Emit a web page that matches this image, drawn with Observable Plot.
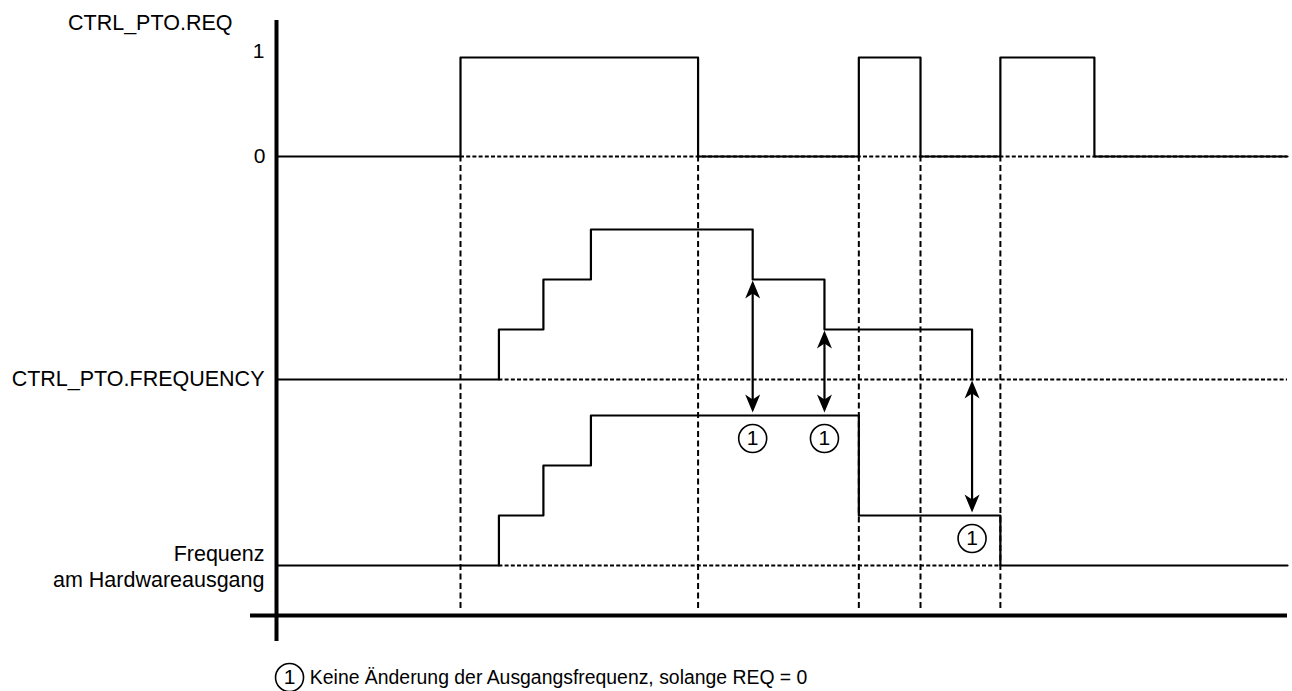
<!DOCTYPE html>
<html><head><meta charset="utf-8">
<script src="https://cdn.jsdelivr.net/npm/d3@7"></script>
<script src="https://cdn.jsdelivr.net/npm/@observablehq/plot@0.6"></script>
<style>body{margin:0;background:#fff}</style>
</head><body><div id="chart"></div>
<script>
// ---- Data (time in arbitrary units 0..100, signal levels) ----
const reqTimes   = [0, 18.2, 41.7, 57.6, 63.7, 71.6, 80.9, 100];
const reqLevels  = [0, 1, 0, 1, 0, 1, 0, 0];
const freqTimes  = [0, 22.0, 26.4, 31.1, 47.1, 54.2, 68.8];
const freqLevels = [0, 1, 2, 3, 2, 1, 0];
const outTimes   = [0, 22.0, 26.4, 31.1, 57.6, 71.6, 100];
const outLevels  = [0, 1, 2, 3, 1, 0, 0];
const edgeTimes  = [18.2, 41.7, 57.6, 63.7, 71.6];
const noteTimes      = [47.1, 54.2, 68.8];
const noteFreqLevels = [2, 1, 0];
const noteOutLevels  = [3, 3, 1];
const reqTickLabels  = ["0", "1"];
const laneLabels = ["CTRL_PTO.REQ", "CTRL_PTO.FREQUENCY", "Frequenz\nam Hardwareausgang"];
const noteMarker = "1";
const footnote = "Keine Änderung der Ausgangsfrequenz, solange REQ = 0";

// ---- Layout constants (vertical lanes in y units) ----
const REQ_BASE = 9.18, REQ_STEP = 1.98;
const FREQ_BASE = 4.72, OUT_BASE = 1.0, STEP = 1.0;
const reqY  = v => REQ_BASE + v * REQ_STEP;
const freqY = v => FREQ_BASE + v * STEP;
const outY  = v => OUT_BASE + v * STEP;

const reqData  = reqTimes.map((t, i) => ({t, y: reqY(reqLevels[i])}));
const freqData = freqTimes.map((t, i) => ({t, y: freqY(freqLevels[i])}));
const outData  = outTimes.map((t, i) => ({t, y: outY(outLevels[i])}));
const notes = noteTimes.map((t, i) => ({t, y1: freqY(noteFreqLevels[i]), y2: outY(noteOutLevels[i])}));

const tEnd = 100;
const baselines = [
  {y: REQ_BASE, x1: reqTimes[1], x2: tEnd},
  {y: FREQ_BASE, x1: freqTimes[1], x2: tEnd},
  {y: OUT_BASE, x1: outTimes[1], x2: outTimes[5]}
];

const headUp = {draw(c) { c.moveTo(0, 0); c.lineTo(7.5, 18); c.lineTo(0, 13); c.lineTo(-7.5, 18); c.closePath(); }};
const headDown = {draw(c) { c.moveTo(0, 0); c.lineTo(7.5, -18); c.lineTo(0, -13); c.lineTo(-7.5, -18); c.closePath(); }};

const font = "'Liberation Sans', Arial, sans-serif";

const chart = Plot.plot({
  width: 1292, height: 691,
  marginLeft: 276, marginRight: 5, marginTop: 0, marginBottom: 0,
  x: {domain: [0, tEnd], axis: null},
  y: {domain: [-1.52, 12.3], axis: null},
  style: {fontFamily: font, background: "white", color: "black"},
  marks: [
    // dashed reference baselines
    Plot.ruleY(baselines, {y: "y", x1: "x1", x2: "x2", stroke: "black", strokeWidth: 2, strokeDasharray: "4,2.2"}),
    // dashed vertical edge markers
    Plot.ruleX(edgeTimes, {x: d => d, y1: 0.14, y2: REQ_BASE, stroke: "black", strokeWidth: 2, strokeDasharray: "6,3.5"}),
    // signals
    Plot.line(reqData,  {x: "t", y: "y", curve: "step-after", stroke: "black", strokeWidth: 2.2}),
    Plot.line(freqData, {x: "t", y: "y", curve: "step-after", stroke: "black", strokeWidth: 2.2}),
    Plot.line(outData,  {x: "t", y: "y", curve: "step-after", stroke: "black", strokeWidth: 2.2}),
    // axes
    Plot.ruleX([0], {y1: -0.52, y2: 11.9, stroke: "black", strokeWidth: 4}),
    Plot.ruleY([0], {x1: -2.57, x2: tEnd, stroke: "black", strokeWidth: 4}),
    // arrows
    Plot.ruleX(notes, {x: "t", y1: "y1", y2: "y2", stroke: "black", strokeWidth: 2.2, insetTop: 8, insetBottom: 10}),
    Plot.dot(notes, {x: "t", y: "y1", symbol: headUp, fill: "black", stroke: "none", dy: 1}),
    Plot.dot(notes, {x: "t", y: "y2", symbol: headDown, fill: "black", stroke: "none", dy: -3}),
    // circled markers
    Plot.dot(notes, {x: "t", y: "y2", r: 14, dy: 23, fill: "white", stroke: "black", strokeWidth: 1.6}),
    Plot.text(notes, {x: "t", y: "y2", text: () => noteMarker, dy: 23, fontSize: 21, lineAnchor: "middle"}),
    // tick labels of REQ
    Plot.text([reqTickLabels[0]], {x: 0, y: reqY(0), text: d => d, dx: -11, textAnchor: "end", lineAnchor: "middle", fontSize: 21}),
    Plot.text([reqTickLabels[1]], {x: 0, y: reqY(1), text: d => d, dx: -12, dy: -6, textAnchor: "end", lineAnchor: "middle", fontSize: 21}),
    // lane labels
    Plot.text([laneLabels[0]], {x: 0, y: 11.85, text: d => d, dx: -44, textAnchor: "end", lineAnchor: "middle", fontSize: 21.5}),
    Plot.text([laneLabels[1]], {x: 0, y: FREQ_BASE, text: d => d, dx: -12, textAnchor: "end", lineAnchor: "middle", fontSize: 21.5}),
    Plot.text([laneLabels[2]], {x: 0, y: OUT_BASE, text: d => d, dx: -12, textAnchor: "end", lineAnchor: "middle", fontSize: 21.5, lineHeight: 1.21}),
    // footnote
    Plot.dot([0], {x: 1.29, y: -1.24, r: 14, fill: "white", stroke: "black", strokeWidth: 1.6}),
    Plot.text([noteMarker], {x: 1.29, y: -1.24, text: d => d, fontSize: 21, lineAnchor: "middle"}),
    Plot.text([footnote], {x: 3.3, y: -1.24, text: d => d, textAnchor: "start", lineAnchor: "middle", fontSize: 19.4})
  ]
});
document.getElementById("chart").appendChild(chart);
</script>
</body></html>
